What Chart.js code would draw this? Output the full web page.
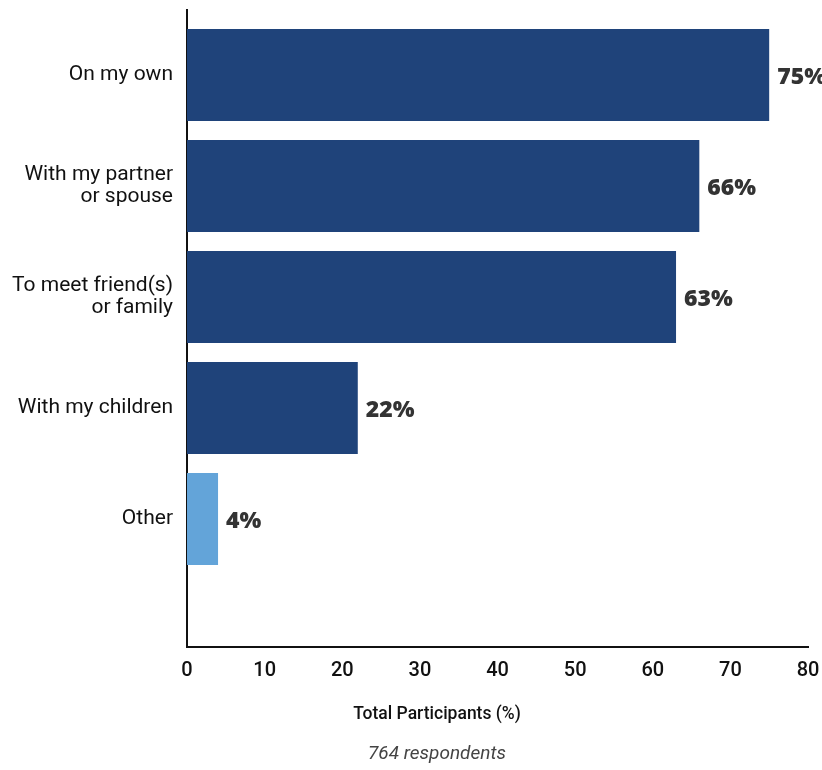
<!DOCTYPE html>
<html>
<head>
<meta charset="utf-8">
<script src="https://cdn.jsdelivr.net/npm/chart.js@4"></script>
<style>
  html, body { margin: 0; padding: 0; background: #fff; }
  #wrap { width: 822px; height: 770px; }
</style>
</head>
<body>
<div id="wrap"><canvas id="barChart"></canvas></div>
<script>
const categories = [
  'On my own',
  ['With my partner', 'or spouse'],
  ['To meet friend(s)', 'or family'],
  'With my children',
  'Other'
];
const shares = [75, 66, 63, 22, 4];
const barColors = ['#1f437a', '#1f437a', '#1f437a', '#1f437a', '#63a4d9'];
const xTicks = [0, 10, 20, 30, 40, 50, 60, 70, 80];
const axisTitle = 'Total Participants (%)';
const note = '764 respondents';

// value labels at the end of each bar
const valueLabels = {
  id: 'valueLabels',
  afterDatasetsDraw(chart) {
    const ctx = chart.ctx;
    const meta = chart.getDatasetMeta(0);
    ctx.save();
    ctx.font = '800 23px "Open Sans"';
    ctx.fillStyle = '#333';
    ctx.textAlign = 'left';
    ctx.textBaseline = 'middle';
    meta.data.forEach((bar, i) => {
      ctx.fillText(shares[i] + '%', bar.x + 8, bar.y + 2);
    });
    ctx.restore();
  }
};

// axis title and respondent note under the chart
const footerText = {
  id: 'footerText',
  afterDraw(chart) {
    const ctx = chart.ctx;
    ctx.save();
    ctx.textAlign = 'center';
    ctx.textBaseline = 'middle';
    ctx.fillStyle = '#111';
    ctx.font = '500 17.5px Roboto';
    ctx.fillText(axisTitle, 437, 715);
    ctx.fillStyle = '#444';
    ctx.font = 'italic 19px Roboto';
    ctx.fillText(note, 437, 754);
    ctx.restore();
  }
};

const ctx = document.getElementById('barChart').getContext('2d');
new Chart(ctx, {
  type: 'bar',
  data: {
    datasets: [{
      data: shares.map((v, i) => ({ x: v, y: i })),
      backgroundColor: barColors,
      categoryPercentage: 1,
      barPercentage: 0.83
    }]
  },
  options: {
    indexAxis: 'y',
    responsive: true,
    maintainAspectRatio: false,
    animation: false,
    layout: { padding: { top: 10, right: 14, bottom: 0, left: 0 } },
    plugins: {
      legend: { display: false },
      tooltip: { enabled: false }
    },
    scales: {
      x: {
        type: 'linear',
        min: 0,
        max: 80,
        afterBuildTicks: s => { s.ticks = xTicks.map(v => ({ value: v })); },
        afterFit: s => { s.height = 123; s.paddingLeft = 0; s.paddingRight = 0; },
        grid: { display: false, drawTicks: false },
        border: { display: true, color: '#111', width: 2 },
        ticks: {
          padding: 12,
          color: '#111',
          font: { family: 'Roboto', size: 20, weight: '500' }
        }
      },
      y: {
        type: 'linear',
        reverse: true,
        offset: false,
        min: -0.586,
        max: 5.153,
        afterBuildTicks: s => { s.ticks = categories.map((c, i) => ({ value: i })); },
        afterFit: s => { s.width = 187; s.paddingTop = 0; s.paddingBottom = 0; },
        grid: { display: false, drawTicks: false },
        border: { display: true, color: '#111', width: 2 },
        ticks: {
          padding: 14,
          color: '#111',
          font: { family: 'Roboto', size: 21, lineHeight: 1.05 },
          callback: v => categories[v]
        }
      }
    }
  },
  plugins: [valueLabels, footerText]
});
</script>
</body>
</html>
